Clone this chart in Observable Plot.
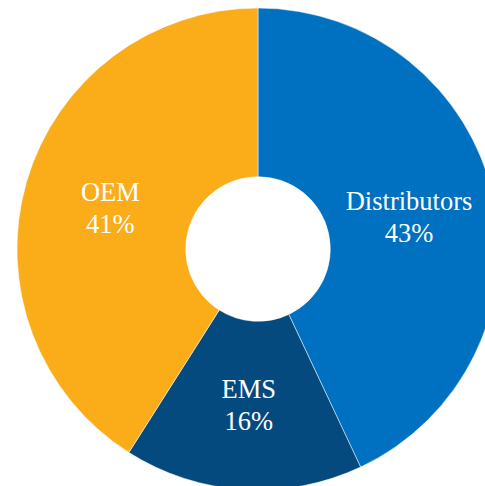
<!DOCTYPE html>
<html><head><meta charset="utf-8">
<script src="https://cdn.jsdelivr.net/npm/d3@7"></script>
<script src="https://cdn.jsdelivr.net/npm/@observablehq/plot@0.6"></script>
<style>html,body{margin:0;padding:0;background:#fff;overflow:hidden}</style>
</head><body><div id="chart"></div>
<script>
const categories = ["Distributors", "EMS", "OEM"];
const shares = [43, 16, 41];
const sliceColors = ["#0070C0", "#044A7F", "#FAAC19"];

const data = categories.map((c, i) => ({category: c, share: shares[i]}));
const arcs = d3.pie().sort(null).value(d => d.share)(data);
const innerFrac = 0.3, labelFrac = 0.64;
const labels = arcs.map(a => {
  const m = (a.startAngle + a.endAngle) / 2;
  return {category: a.data.category, share: a.data.share, x: labelFrac * Math.sin(m), y: labelFrac * Math.cos(m)};
});

function slices(index, scales, values, dimensions, context) {
  const x = scales.x, y = scales.y;
  const cx = x(0), cy = y(0), R = x(1) - x(0);
  const color = scales.color ?? (c => sliceColors[categories.indexOf(c)]);
  const arc = d3.arc().innerRadius(R * innerFrac).outerRadius(R);
  const g = d3.create("svg:g").attr("transform", `translate(${cx},${cy})`);
  g.selectAll("path").data(arcs).join("path")
    .attr("d", arc)
    .attr("fill", d => color(d.data.category))
    .attr("stroke", "white")
    .attr("stroke-width", 0.5);
  return g.node();
}

const chart = Plot.plot({
  width: 485,
  height: 486,
  margin: 0,
  x: {domain: [-258 / 241, 227 / 241], axis: null},
  y: {domain: [-237 / 241, 249 / 241], axis: null},
  color: {domain: categories, range: sliceColors},
  style: {fontFamily: "'Liberation Serif', 'Times New Roman', serif", background: "white"},
  marks: [
    slices,
    Plot.text(labels, {
      x: "x", y: "y",
      text: d => `${d.category}\n${d.share}%`,
      fill: "white",
      fontSize: 26.5,
      lineHeight: 1.22,
      fontFamily: "'Liberation Serif', 'Times New Roman', serif"
    })
  ]
});
document.getElementById("chart").appendChild(chart);
</script>
</body></html>
